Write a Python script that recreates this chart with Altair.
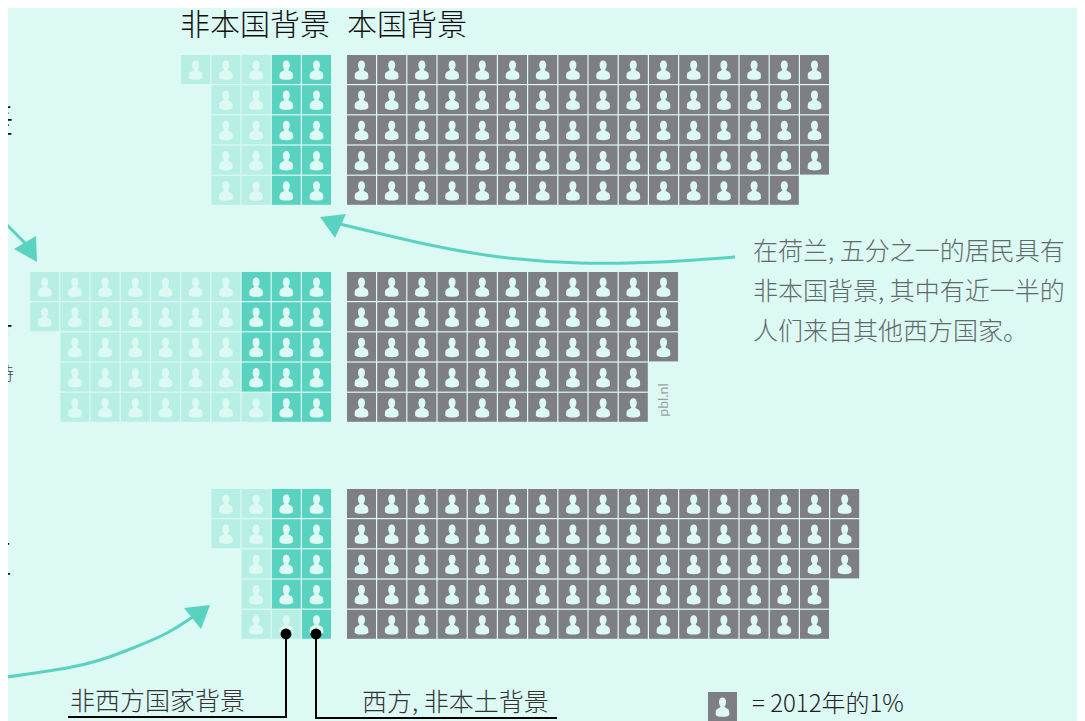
import altair as alt
import pandas as pd

# Values: squares per row (one square = 1%), one list per block
light_counts = [[3, 2, 2, 2, 2], [7, 7, 6, 6, 7], [2, 2, 1, 1, 2]]
dark_counts = [[2, 2, 2, 2, 2], [3, 3, 3, 3, 2], [2, 2, 2, 2, 1]]
gray_counts = [[16, 16, 16, 16, 15], [11, 11, 11, 10, 10], [17, 17, 17, 16, 16]]

title_left = "非本国背景"
title_right = "本国背景"
note_lines = ["在荷兰, 五分之一的居民具有", "非本国背景, 其中有近一半的", "人们来自其他西方国家。"]
label_nonwest = "非西方国家背景"
label_west = "西方, 非本土背景"
legend_text = "= 2012年的1%"

BG = "#ddf9f4"
LIGHT = "#b8efe4"
DARK = "#5ad2c0"
GRAY = "#7e7f84"
FONT = "Noto Sans CJK SC"

W, H = 1069, 713
PITCH = 30.2
X0, Y0 = 347, 55
def ux(px): return (px - X0) / PITCH
def uy(py): return (py - Y0) / PITCH

xs = alt.Scale(domain=[ux(8), ux(8 + W)], nice=False, zero=False)
ys = alt.Scale(domain=[uy(8), uy(8 + H)], nice=False, zero=False, reverse=True)
CELL = 29 / PITCH
BLOCK_GAP = 217 / PITCH
NATIVE0 = (302 - X0) / PITCH

rows = []
for b in range(3):
    for r in range(5):
        v = b * BLOCK_GAP + r * 1.0
        for k in range(gray_counts[b][r]):
            rows.append(("gray", k * 1.0, v))
        d = dark_counts[b][r]
        for k in range(d):
            rows.append(("dark", NATIVE0 - k, v))
        for k in range(light_counts[b][r]):
            rows.append(("light", NATIVE0 - d - k, v))
rows.append(("gray", ux(708), uy(692)))
df = pd.DataFrame(rows, columns=["kind", "u", "v"])
df["u2"] = df.u + CELL
df["v2"] = df.v + CELL
df["cu"] = df.u + CELL / 2
df["cv"] = df.v + CELL / 2 + 0.03

cells = alt.Chart(df).mark_rect().encode(
    x=alt.X("u:Q", scale=xs, axis=None), x2="u2:Q",
    y=alt.Y("v:Q", scale=ys, axis=None), y2="v2:Q",
    color=alt.Color("kind:N", legend=None,
                    scale=alt.Scale(domain=["light", "dark", "gray"], range=[LIGHT, DARK, GRAY])),
)
PERSON = ("M0,-1 C0.22,-1 0.35,-0.8 0.35,-0.55 C0.35,-0.35 0.27,-0.2 0.2,-0.1 C0.2,0 0.3,0.02 0.45,0.1 "
          "C0.62,0.18 0.68,0.3 0.68,0.5 L0.68,0.75 C0.5,1 -0.5,1 -0.68,0.75 L-0.68,0.5 "
          "C-0.68,0.3 -0.62,0.18 -0.45,0.1 C-0.3,0.02 -0.2,0 -0.2,-0.1 C-0.27,-0.2 -0.35,-0.35 -0.35,-0.55 "
          "C-0.35,-0.8 -0.22,-1 0,-1 Z")
icons = alt.Chart(df).mark_point(shape=PERSON, filled=True, fill=BG, opacity=1, size=400, strokeWidth=0).encode(
    x=alt.X("cu:Q", scale=xs, axis=None), y=alt.Y("cv:Q", scale=ys, axis=None))

def polyline(pts, color, width, interp="linear"):
    d = pd.DataFrame({"u": [ux(p[0]) for p in pts], "v": [uy(p[1]) for p in pts], "o": range(len(pts))})
    return alt.Chart(d).mark_line(color=color, strokeWidth=width, interpolate=interp, clip=False).encode(
        x=alt.X("u:Q", scale=xs, axis=None), y=alt.Y("v:Q", scale=ys, axis=None), order="o:Q")

def head(verts):
    cx = sum(p[0] for p in verts) / 3
    cy = sum(p[1] for p in verts) / 3
    path = "M" + " L".join(f"{(p[0]-cx)/10:.3f},{(p[1]-cy)/10:.3f}" for p in verts) + " Z"
    d = pd.DataFrame({"u": [ux(cx)], "v": [uy(cy)]})
    return alt.Chart(d).mark_point(shape=path, filled=True, fill=DARK, opacity=1, size=400, strokeWidth=0).encode(
        x=alt.X("u:Q", scale=xs, axis=None), y=alt.Y("v:Q", scale=ys, axis=None))

def dot(px, py):
    d = pd.DataFrame({"u": [ux(px)], "v": [uy(py)]})
    return alt.Chart(d).mark_point(shape="circle", filled=True, fill="#000000", opacity=1, size=120, strokeWidth=0).encode(
        x=alt.X("u:Q", scale=xs, axis=None), y=alt.Y("v:Q", scale=ys, axis=None))

def text(s, px, py, size, color="#222222", align="left", angle=None, font=FONT, weight=300):
    kw = dict(align=align, baseline="middle", fontSize=size, color=color, font=font, fontWeight=weight)
    if angle is not None:
        kw["angle"] = angle
    return alt.Chart(pd.DataFrame({"t": [s]})).mark_text(**kw).encode(
        x=alt.value(px - 8), y=alt.value(py - 8), text="t:N")

layers = [cells, icons,
    polyline([(0, 218), (12, 230), (26, 244)], DARK, 3),
    head([(36, 236), (37, 262), (14, 249)]),
    polyline([(735, 257), (660, 262), (580, 263), (500, 257), (430, 245), (340, 224)], DARK, 3, "cardinal"),
    head([(320, 217), (346, 214), (335, 238)]),
    polyline([(0, 678), (67, 668), (100, 660), (133, 648), (167, 633), (197, 614)], DARK, 3, "cardinal"),
    head([(210, 605), (184, 608), (201, 629)]),
    polyline([(68, 717), (286, 717), (286, 634)], "#000000", 2),
    polyline([(316, 634), (316, 718), (557, 718)], "#000000", 2),
    dot(286, 634), dot(316, 634),
    text(title_left, 180, 26, 30, "#111111"),
    text(title_right, 347, 26, 30, "#111111"),
    text(note_lines[0], 753, 252, 25, "#5f6b6a"),
    text(note_lines[1], 753, 292, 25, "#5f6b6a"),
    text(note_lines[2], 753, 332, 25, "#5f6b6a"),
    text(label_nonwest, 70, 702, 25, "#333333"),
    text(label_west, 362, 703, 25, "#333333"),
    text(legend_text, 752, 705, 24, "#222222"),
    text("pbl.nl", 664, 400, 14, "#9aa3a3", align="center", angle=270, font="Lato", weight=400),
    text("差", 14, 122, 38, "#111111", align="right"),
    text("方", 14, 338, 36, "#111111", align="right"),
    text("持", 14, 375, 18, "#444444", align="right"),
    text("）", 6, 405, 18, "#444444", align="right"),
    text("区", 12, 561, 38, "#111111", align="right"),
]

chart = alt.layer(*layers).properties(
    width=W, height=H, background=BG, padding=0,
    autosize=alt.AutoSizeParams(type="none"),
).configure_view(stroke=None)

chart.save("out.html", embed_options={"renderer": "svg", "actions": False})
